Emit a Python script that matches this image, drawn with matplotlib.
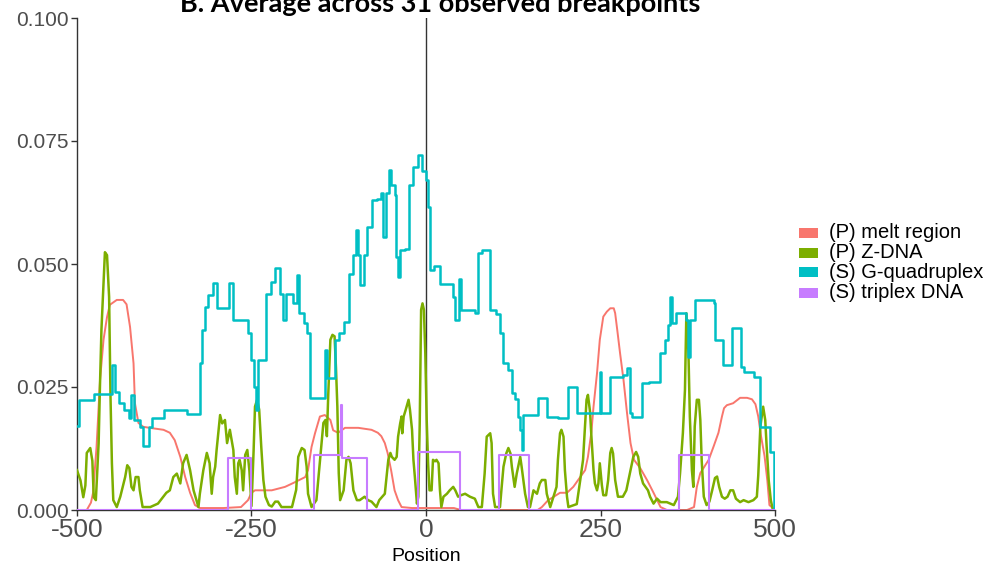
import matplotlib
matplotlib.use("Agg")
import matplotlib.pyplot as plt
from matplotlib.patches import Rectangle

plt.rcParams['font.family'] = ['Liberation Sans', 'DejaVu Sans']

# (P) melt region profile
melt_pos = [-500, -486, -480, -477, -472, -467, -462, -457, -453, -443, -434, -429, -424, -419,
            -417, -412, -405, -391, -376, -367, -360, -352, -345, -338, -331, -324, -290, -265,
            -255, -250, -245, -221, -202, -190, -173, -169, -164, -159, -152, -145, -137, -133,
            -126, -116, -97, -78, -69, -64, -59, -55, -50, -45, -40, -35, -20, 0, 40, 50, 160,
            166, 175, 182, 192, 202, 211, 221, 228, 232, 237, 240, 245, 249, 254, 259, 264, 269,
            271, 274, 278, 283, 288, 293, 298, 307, 317, 326, 336, 345, 374, 384, 388, 393, 405,
            412, 419, 424, 427, 431, 440, 450, 460, 467, 472, 476, 480, 485, 489, 492, 500]
melt_val = [0, 0, 0.0015, 0.0035, 0.0128, 0.0264, 0.0346, 0.0392, 0.0417, 0.0427, 0.0427, 0.0418,
            0.0372, 0.0298, 0.0217, 0.0177, 0.0169, 0.0166, 0.0163, 0.0157, 0.0142, 0.0108, 0.0067,
            0.0035, 0.0010, 0.0004, 0.0004, 0.0006, 0.0020, 0.0035, 0.0040, 0.0040, 0.0047, 0.0055,
            0.0067, 0.0081, 0.0128, 0.0156, 0.0190, 0.0193, 0.0183, 0.0162, 0.0157, 0.0167, 0.0167,
            0.0163, 0.0157, 0.0150, 0.0136, 0.0116, 0.0081, 0.0040, 0.0020, 0.0006, 0.0004, 0.0004,
            0.0004, 0, 0, 0.0006, 0.0020, 0.0026, 0.0035, 0.0035, 0.0047, 0.0067, 0.0081, 0.0108,
            0.0159, 0.0210, 0.0278, 0.0346, 0.0393, 0.0403, 0.0410, 0.0410, 0.0400, 0.0366, 0.0319,
            0.0264, 0.0197, 0.0136, 0.0102, 0.0085, 0.0060, 0.0035, 0.0006, 0, 0, 0.0006, 0.0047,
            0.0075, 0.0102, 0.0129, 0.0157, 0.0190, 0.0207, 0.0213, 0.0217, 0.0228, 0.0228, 0.0225,
            0.0215, 0.0190, 0.0150, 0.0110, 0.0060, 0.0010, 0]

# (P) Z-DNA profile
zdna_pos = [-500, -495, -491, -488, -486, -481, -478, -476, -473, -469, -467, -465, -462, -460,
            -457, -454, -452, -450, -448, -443, -438, -431, -428, -425, -422, -419, -416, -412,
            -410, -406, -395, -384, -372, -367, -362, -357, -352, -348, -343, -338, -333, -326,
            -324, -319, -314, -310, -307, -305, -302, -300, -295, -292, -288, -285, -281, -276,
            -274, -271, -269, -267, -264, -262, -259, -256, -253, -250, -247, -245, -242, -239,
            -236, -233, -230, -225, -221, -216, -212, -207, -192, -186, -183, -178, -174, -171,
            -169, -164, -157, -154, -150, -147, -144, -142, -140, -137, -134, -131, -129, -127,
            -125, -123, -118, -114, -111, -108, -104, -99, -95, -88, -83, -78, -71, -67, -59, -56,
            -54, -51, -49, -45, -42, -40, -37, -35, -34, -32, -29, -25, -23, -20, -18, -16, -13,
            -11, -9, -7, -5, -3, -1, 1, 3, 5, 8, 10, 13, 15, 18, 20, 22, 25, 30, 34, 39, 42, 46,
            50, 56, 63, 70, 75, 80, 84, 87, 92, 94, 96, 99, 106, 108, 111, 115, 118, 121, 123, 127,
            130, 135, 137, 142, 146, 149, 154, 159, 163, 166, 171, 173, 178, 187, 189, 192, 194,
            197, 199, 202, 204, 216, 221, 225, 228, 230, 232, 235, 237, 240, 242, 245, 247, 249,
            252, 254, 258, 261, 264, 266, 268, 271, 275, 282, 287, 292, 297, 301, 304, 307, 311,
            318, 321, 326, 331, 336, 345, 355, 361, 364, 368, 371, 373, 376, 378, 381, 383, 385,
            388, 391, 393, 395, 398, 402, 406, 410, 414, 417, 420, 424, 428, 432, 436, 440, 444,
            450, 455, 462, 469, 474, 476, 479, 483, 486, 488, 491, 494, 497, 500]
zdna_val = [0.0081, 0.0060, 0.0026, 0.0050, 0.0116, 0.0126, 0.0100, 0.0026, 0.0020, 0.0136, 0.0258,
            0.0366, 0.0460, 0.0524, 0.0518, 0.0433, 0.0230, 0.0095, 0.0020, 0.0006, 0.0027, 0.0067,
            0.0091, 0.0085, 0.0047, 0.0040, 0.0067, 0.0067, 0.0040, 0.0006, 0.0006, 0.0013, 0.0035,
            0.0040, 0.0067, 0.0074, 0.0054, 0.0095, 0.0112, 0.0081, 0.0040, 0.0006, 0.0033, 0.0081,
            0.0116, 0.0095, 0.0033, 0.0067, 0.0088, 0.0122, 0.0193, 0.0176, 0.0183, 0.0136, 0.0163,
            0.0122, 0.0067, 0.0033, 0.0095, 0.0102, 0.0081, 0.0040, 0.0112, 0.0122, 0.0080, 0.0008,
            0.0120, 0.0210, 0.0224, 0.0204, 0.0128, 0.0061, 0.0027, 0.0010, 0.0007, 0.0017, 0.0017,
            0.0006, 0.0006, 0.0041, 0.0108, 0.0126, 0.0122, 0.0088, 0.0033, 0.0006, 0.0020, 0.0067,
            0.0128, 0.0177, 0.0183, 0.0150, 0.0236, 0.0346, 0.0356, 0.0353, 0.0290, 0.0210, 0.0075,
            0.0020, 0.0040, 0.0102, 0.0108, 0.0095, 0.0040, 0.0020, 0.0020, 0.0027, 0.0020, 0.0017,
            0.0006, 0.0020, 0.0033, 0.0074, 0.0102, 0.0116, 0.0108, 0.0102, 0.0108, 0.0149, 0.0176,
            0.0190, 0.0156, 0.0190, 0.0204, 0.0224, 0.0204, 0.0163, 0.0102, 0.0068, 0.0013, 0.0027,
            0.0175, 0.0407, 0.0420, 0.0407, 0.0319, 0.0183, 0.0095, 0.0040, 0.0040, 0.0102, 0.0099,
            0.0102, 0.0095, 0.0040, 0.0006, 0.0027, 0.0033, 0.0040, 0.0047, 0.0040, 0.0027, 0.0030,
            0.0033, 0.0027, 0.0023, 0.0006, 0.0006, 0.0074, 0.0149, 0.0156, 0.0136, 0.0033, 0.0006,
            0.0006, 0.0040, 0.0088, 0.0115, 0.0126, 0.0115, 0.0088, 0.0047, 0.0074, 0.0108, 0.0088,
            0.0033, 0.0006, 0.0006, 0.0040, 0.0033, 0.0054, 0.0061, 0.0061, 0.0033, 0.0006, 0.0047,
            0.0102, 0.0156, 0.0163, 0.0149, 0.0081, 0.0027, 0.0006, 0.0012, 0.0061, 0.0102, 0.0177,
            0.0224, 0.0234, 0.0200, 0.0149, 0.0081, 0.0054, 0.0040, 0.0054, 0.0095, 0.0050, 0.0030,
            0.0030, 0.0061, 0.0116, 0.0126, 0.0115, 0.0061, 0.0027, 0.0027, 0.0040, 0.0074, 0.0108,
            0.0118, 0.0108, 0.0074, 0.0054, 0.0040, 0.0027, 0.0013, 0.0023, 0.0016, 0.0016, 0.0010,
            0.0027, 0.0075, 0.0156, 0.0244, 0.0400, 0.0320, 0.0190, 0.0080, 0.0047, 0.0170, 0.0224,
            0.0224, 0.0183, 0.0100, 0.0027, 0.0010, 0.0017, 0.0040, 0.0065, 0.0068, 0.0047, 0.0027,
            0.0023, 0.0027, 0.0040, 0.0040, 0.0023, 0.0016, 0.0020, 0.0016, 0.0020, 0.0027, 0.0070,
            0.0170, 0.0210, 0.0183, 0.0130, 0.0060, 0.0020, 0, 0]

# (S) G-quadruplex, stepwise levels (value holds from each position to the next)
g4_pos = [-500, -497, -476, -450, -446, -440, -432, -426, -422, -419, -410, -405, -397, -392,
          -376, -343, -324, -321, -317, -312, -305, -300, -282, -276, -255, -251, -247, -244,
          -240, -229, -222, -216, -209, -205, -200, -190, -185, -182, -175, -170, -166, -144,
          -142, -131, -124, -117, -110, -104, -100, -97, -95, -89, -84, -77, -70, -64, -61, -58,
          -53, -50, -45, -43, -40, -37, -30, -24, -18, -12, -6, 0, 3, 6, 12, 20, 39, 41, 47, 50,
          70, 74, 80, 91, 100, 106, 110, 117, 123, 128, 132, 135, 137, 139, 161, 173, 189, 204,
          216, 249, 251, 264, 282, 288, 292, 295, 309, 320, 335, 342, 347, 350, 352, 358, 372,
          376, 378, 386, 412, 414, 426, 438, 452, 455, 470, 479, 493, 499, 500]
g4_val = [0.0170, 0.0224, 0.0236, 0.0295, 0.0240, 0.0217, 0.0203, 0.0187, 0.0234, 0.0183, 0.0169,
          0.0130, 0.0169, 0.0187, 0.0203, 0.0195, 0.0299, 0.0366, 0.0413, 0.0437, 0.0461, 0.0410,
          0.0461, 0.0386, 0.0360, 0.0305, 0.0250, 0.0203, 0.0305, 0.0440, 0.0463, 0.0491, 0.0440,
          0.0386, 0.0440, 0.0420, 0.0477, 0.0400, 0.0380, 0.0360, 0.0228, 0.0325, 0.0268, 0.0346,
          0.0360, 0.0382, 0.0480, 0.0518, 0.0569, 0.0518, 0.0457, 0.0518, 0.0575, 0.0630, 0.0632,
          0.0644, 0.0555, 0.0644, 0.0691, 0.0660, 0.0640, 0.0514, 0.0474, 0.0528, 0.0531, 0.0660,
          0.0697, 0.0722, 0.0690, 0.0670, 0.0616, 0.0488, 0.0495, 0.0460, 0.0433, 0.0386, 0.0470,
          0.0407, 0.0400, 0.0522, 0.0528, 0.0407, 0.0398, 0.0360, 0.0299, 0.0285, 0.0238, 0.0225,
          0.0190, 0.0163, 0.0122, 0.0193, 0.0228, 0.0190, 0.0187, 0.0250, 0.0197, 0.0280, 0.0197,
          0.0270, 0.0275, 0.0288, 0.0197, 0.0190, 0.0258, 0.0260, 0.0319, 0.0346, 0.0376, 0.0433,
          0.0380, 0.0400, 0.0386, 0.0310, 0.0386, 0.0427, 0.0420, 0.0346, 0.0295, 0.0370, 0.0290,
          0.0280, 0.0270, 0.0169, 0.0118, 0.0, 0.0]

# (S) triplex DNA, stepwise levels
tri_pos = [-500, -283, -250, -161, -122, -120, -85, -11, 48, 105, 148, 362, 406, 500]
tri_val = [0, 0.0105, 0, 0.0112, 0.0213, 0.0105, 0, 0.0118, 0, 0.0112, 0, 0.0112, 0, 0]

labels = ["(P) melt region", "(P) Z-DNA", "(S) G-quadruplex", "(S) triplex DNA"]
colors = ["#F8766D", "#7CAE00", "#00BFC4", "#C77CFF"]

xticks = [-500, -250, 0, 250, 500]
yticks = [0.000, 0.025, 0.050, 0.075, 0.100]

fig = plt.figure(figsize=(9.91, 5.71), dpi=100)
ax = fig.add_axes([77 / 991, 61 / 571, 698 / 991, 492 / 571])

ax.axvline(0, color="#333333", lw=1.0, zorder=1)
ax.plot(melt_pos, melt_val, color=colors[0], lw=1.4, zorder=2)
ax.plot(zdna_pos, zdna_val, color=colors[1], lw=1.8, zorder=3)
ax.plot(g4_pos, g4_val, color=colors[2], lw=1.8, drawstyle="steps-post", zorder=4)
ax.plot(tri_pos, tri_val, color=colors[3], lw=1.5, drawstyle="steps-post", zorder=5)

ax.set_xlim(-500, 500)
ax.set_ylim(0, 0.1)
ax.set_xticks(xticks)
ax.set_xticklabels([str(t) for t in xticks], fontsize=19, color="#4D4D4D")
ax.set_yticks(yticks)
ax.set_yticklabels([f"{t:.3f}" for t in yticks], fontsize=15, color="#4D4D4D")
ax.tick_params(length=4, width=1, color="#333333", pad=2)
ax.set_xlabel("Position", fontsize=14, labelpad=4)

for side in ["top", "right"]:
    ax.spines[side].set_visible(False)
for side in ["left", "bottom"]:
    ax.spines[side].set_color("#333333")
    ax.spines[side].set_linewidth(1.0)

fig.text(440 / 991, 1 - 12 / 571, "B. Average across 31 observed breakpoints",
         ha="center", va="baseline", fontsize=19.5, fontweight="bold", family="Lato")

# legend keys and labels
for i, (lab, col) in enumerate(zip(labels, colors)):
    yc = 232.5 + 20 * i
    fig.patches.append(Rectangle((799 / 991, 1 - (yc + 5) / 571), 19 / 991, 10 / 571,
                                 transform=fig.transFigure, facecolor=col, edgecolor="none"))
    fig.text(829 / 991, 1 - yc / 571, lab, ha="left", va="center", fontsize=14.5)

fig.savefig("out.png", dpi=100)
